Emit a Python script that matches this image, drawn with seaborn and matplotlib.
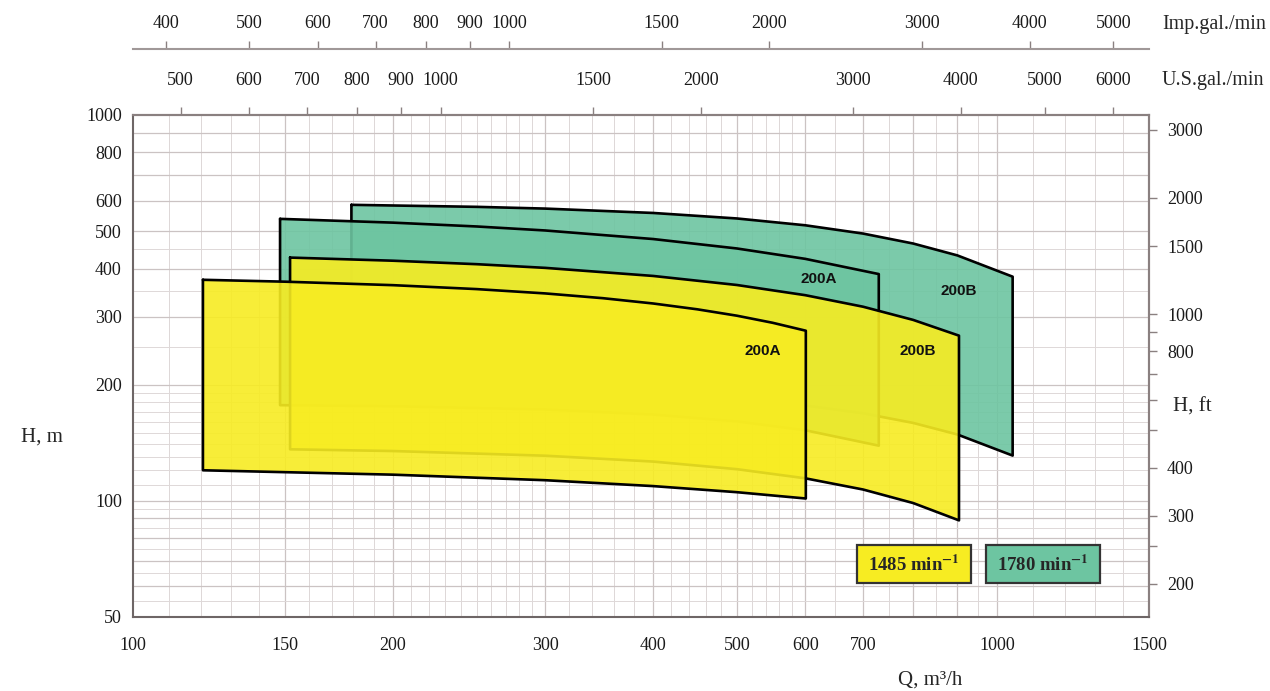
import numpy as np
import pandas as pd
import matplotlib
matplotlib.use("Agg")
import matplotlib.pyplot as plt
from matplotlib.patches import Rectangle
from matplotlib.ticker import FixedLocator, NullLocator, NullFormatter
import seaborn as sns

# operating envelopes: Q in m3/h, H in m
# 1485 min-1
q_1485_a_top = [120.5, 150, 200, 250, 300, 350, 400, 450, 500, 550, 601]
h_1485_a_top = [374, 369.8, 362.2, 353.8, 344.8, 335.1, 324.7, 313.6, 301.9, 289.4, 276]
q_1485_a_bot = [120.5, 200, 300, 400, 500, 601]
h_1485_a_bot = [120, 116.9, 113.1, 109.2, 105.3, 101.4]

q_1485_b_top = [152, 200, 250, 300, 400, 500, 600, 700, 800, 904]
h_1485_b_top = [427, 419.1, 410.5, 401.6, 382.7, 362.6, 341.2, 318.5, 294.4, 268]
q_1485_b_bot = [152, 200, 300, 400, 500, 600, 700, 800, 904]
h_1485_b_bot = [136, 134.6, 130.9, 126.4, 120.8, 114.4, 107.0, 98.7, 89]

# 1780 min-1
q_1780_a_top = [148, 200, 250, 300, 400, 500, 600, 730]
h_1780_a_top = [538, 526, 514.1, 502, 477, 450.9, 423.8, 387]
q_1780_a_bot = [148, 200, 300, 400, 500, 600, 730]
h_1780_a_bot = [177, 175.9, 172.5, 167.4, 160.7, 152.4, 139]

q_1780_b_top = [179, 250, 300, 400, 500, 600, 700, 800, 900, 1043]
h_1780_b_top = [585, 578, 572, 557.3, 539.3, 517.8, 492.8, 464.4, 432.6, 381]
q_1780_b_bot = [179, 250, 300, 400, 500, 600, 700, 800, 900, 1043]
h_1780_b_bot = [196, 194.4, 192.8, 188.8, 183.4, 176.6, 168.6, 159.2, 148.6, 131]

speeds = ["1485 min$^{\\mathbf{-1}}$", "1780 min$^{\\mathbf{-1}}$"]
speed_colors = ["#F7EC22", "#6DC5A1"]

q_ticks = [100, 150, 200, 300, 400, 500, 600, 700, 1000, 1500]
h_ticks = [50, 100, 200, 300, 400, 500, 600, 800, 1000]
ft_ticks = [200, 300, 400, 800, 1000, 1500, 2000, 3000]
ft_minor = [250, 500, 600, 700, 900]
usgpm_ticks = [500, 600, 700, 800, 900, 1000, 1500, 2000, 3000, 4000, 5000, 6000]
igpm_ticks = [400, 500, 600, 700, 800, 900, 1000, 1500, 2000, 3000, 4000, 5000]

M3H_TO_USGPM = 4.4029
M3H_TO_IGPM = 3.6662
M_TO_FT = 3.2808


def envelope_frame(q_top, h_top, q_bot, h_bot):
    q = list(q_top) + list(q_bot[::-1]) + [q_top[0]]
    h = list(h_top) + list(h_bot[::-1]) + [h_top[0]]
    return pd.DataFrame({"Q": q, "H": h})


sns.set_theme(style="white")
plt.rcParams["font.family"] = ["Liberation Serif", "DejaVu Serif"]
plt.rcParams["mathtext.fontset"] = "stix"

fig = plt.figure(figsize=(12.7, 6.91), dpi=100)
ax = fig.add_axes([0.1047, 0.1071, 0.8, 0.7265])
ax.set_xscale("log")
ax.set_yscale("log")
ax.set_xlim(100, 1500)
ax.set_ylim(50, 1000)

# grid
grid_q = np.concatenate([np.arange(110, 300, 10), np.arange(300, 600, 20),
                         np.arange(600, 1000, 50), np.arange(1000, 1500, 100)])
grid_h = np.concatenate([np.arange(55, 100, 5), np.arange(100, 200, 10),
                         np.arange(200, 500, 50), np.arange(500, 1000, 100)])
for g in grid_q:
    strong = g in (150, 200, 300, 400, 500, 600, 700, 800, 900, 1000)
    ax.axvline(g, color="#cbc3c3" if strong else "#ddd7d7", lw=0.9 if strong else 0.7, zorder=0)
for g in grid_h:
    strong = g in (60, 70, 80, 90, 100, 200, 300, 400, 500, 600, 700, 800, 900)
    ax.axhline(g, color="#cbc3c3" if strong else "#ded8d8", lw=0.9 if strong else 0.7, zorder=0)

# envelopes, back to front
envelopes = [
    (envelope_frame(q_1780_b_top, h_1780_b_top, q_1780_b_bot, h_1780_b_bot), speed_colors[1], "200B", (904, 350)),
    (envelope_frame(q_1780_a_top, h_1780_a_top, q_1780_a_bot, h_1780_a_bot), speed_colors[1], "200A", (622, 376)),
    (envelope_frame(q_1485_b_top, h_1485_b_top, q_1485_b_bot, h_1485_b_bot), speed_colors[0], "200B", (810, 245)),
    (envelope_frame(q_1485_a_top, h_1485_a_top, q_1485_a_bot, h_1485_a_bot), speed_colors[0], "200A", (536, 245)),
]
for i, (df, col, name, pos) in enumerate(envelopes):
    z = 2 + i
    ax.fill(df["Q"], df["H"], color=col, alpha=0.9, lw=0, zorder=z)
    sns.lineplot(data=df, x="Q", y="H", sort=False, estimator=None, color="black",
                 lw=1.9, zorder=z + 0.1, ax=ax)
    ax.text(pos[0], pos[1], name, family="Liberation Sans", fontweight="bold",
            fontsize=11, ha="center", va="center", color="#111111", zorder=10)

ax.set_xlabel("")
ax.set_ylabel("")

spine_col = "#8a8080"
for s in ax.spines.values():
    s.set_color(spine_col)
    s.set_linewidth(1.5)
ax.spines["left"].set_color("#6e6666")
ax.spines["bottom"].set_color("#6e6666")

# bottom / left axes
ax.set_xticks(q_ticks, labels=[str(v) for v in q_ticks])
ax.xaxis.set_minor_locator(NullLocator())
ax.set_yticks(h_ticks, labels=[str(v) for v in h_ticks])
ax.yaxis.set_minor_locator(FixedLocator([700, 900]))
ax.yaxis.set_minor_formatter(NullFormatter())
ax.tick_params(axis="x", which="major", direction="out", length=5.5, width=1,
               pad=9, labelsize=13, color=spine_col, labelcolor="#1a1a1a")
ax.tick_params(axis="y", which="both", direction="out", length=5, width=1,
               pad=3, labelsize=13, color=spine_col, labelcolor="#1a1a1a")
ax.tick_params(top=False, right=False)

# right axis in feet
secy = ax.secondary_yaxis("right", functions=(lambda h: h * M_TO_FT, lambda f: f / M_TO_FT))
secy.set_yticks(ft_ticks, labels=[str(v) for v in ft_ticks])
secy.yaxis.set_minor_locator(FixedLocator(ft_minor))
secy.yaxis.set_minor_formatter(NullFormatter())
secy.tick_params(axis="y", which="both", direction="out", length=6, width=1, pad=7,
                 labelsize=13, color=spine_col, labelcolor="#1a1a1a")
for s in secy.spines.values():
    s.set_color(spine_col)
    s.set_linewidth(1.5)

# top axes in gallons
secx = ax.secondary_xaxis("top", functions=(lambda q: q * M3H_TO_USGPM, lambda g: g / M3H_TO_USGPM))
secx.set_xticks(usgpm_ticks, labels=[str(v) for v in usgpm_ticks])
secx.xaxis.set_minor_locator(NullLocator())
secx.tick_params(axis="x", direction="out", length=6, width=1, pad=13,
                 labelsize=13, color=spine_col, labelcolor="#1a1a1a")
for s in secx.spines.values():
    s.set_color(spine_col)
    s.set_linewidth(1.5)

secx2 = ax.secondary_xaxis(1.1315, functions=(lambda q: q * M3H_TO_IGPM, lambda g: g / M3H_TO_IGPM))
secx2.set_xticks(igpm_ticks, labels=[str(v) for v in igpm_ticks])
secx2.xaxis.set_minor_locator(NullLocator())
secx2.tick_params(axis="x", direction="out", length=6, width=1, pad=6,
                  labelsize=13, color=spine_col, labelcolor="#1a1a1a")
for s in secx2.spines.values():
    s.set_color("#a09898")
    s.set_linewidth(1.5)

# axis titles
fig.text(42 / 1270, 1 - 437 / 691, "H, m", fontsize=15, ha="center", va="center")
fig.text(1192 / 1270, 1 - 407 / 691, "H, ft", fontsize=15, ha="center", va="center")
fig.text(930 / 1270, 1 - 680 / 691, "Q, m³/h", fontsize=15, ha="center", va="center")
fig.text(1162 / 1270, 1 - 25 / 691, "Imp.gal./min", fontsize=14.5, ha="left", va="center")
fig.text(1162 / 1270, 1 - 81 / 691, "U.S.gal./min", fontsize=14.5, ha="left", va="center")

# speed key
for i, (lab, col) in enumerate(zip(speeds, speed_colors)):
    x0 = (857 + i * 129) / 1270
    box = Rectangle((x0, 1 - 583 / 691), 114 / 1270, 38 / 691, transform=fig.transFigure,
                    facecolor=col, edgecolor="#333333", lw=1.6, zorder=20)
    fig.add_artist(box)
    fig.text(x0 + 57 / 1270, 1 - 565 / 691, lab, fontsize=13.5, fontweight="bold",
             ha="center", va="center", zorder=21)

fig.savefig("out.png", dpi=100)
